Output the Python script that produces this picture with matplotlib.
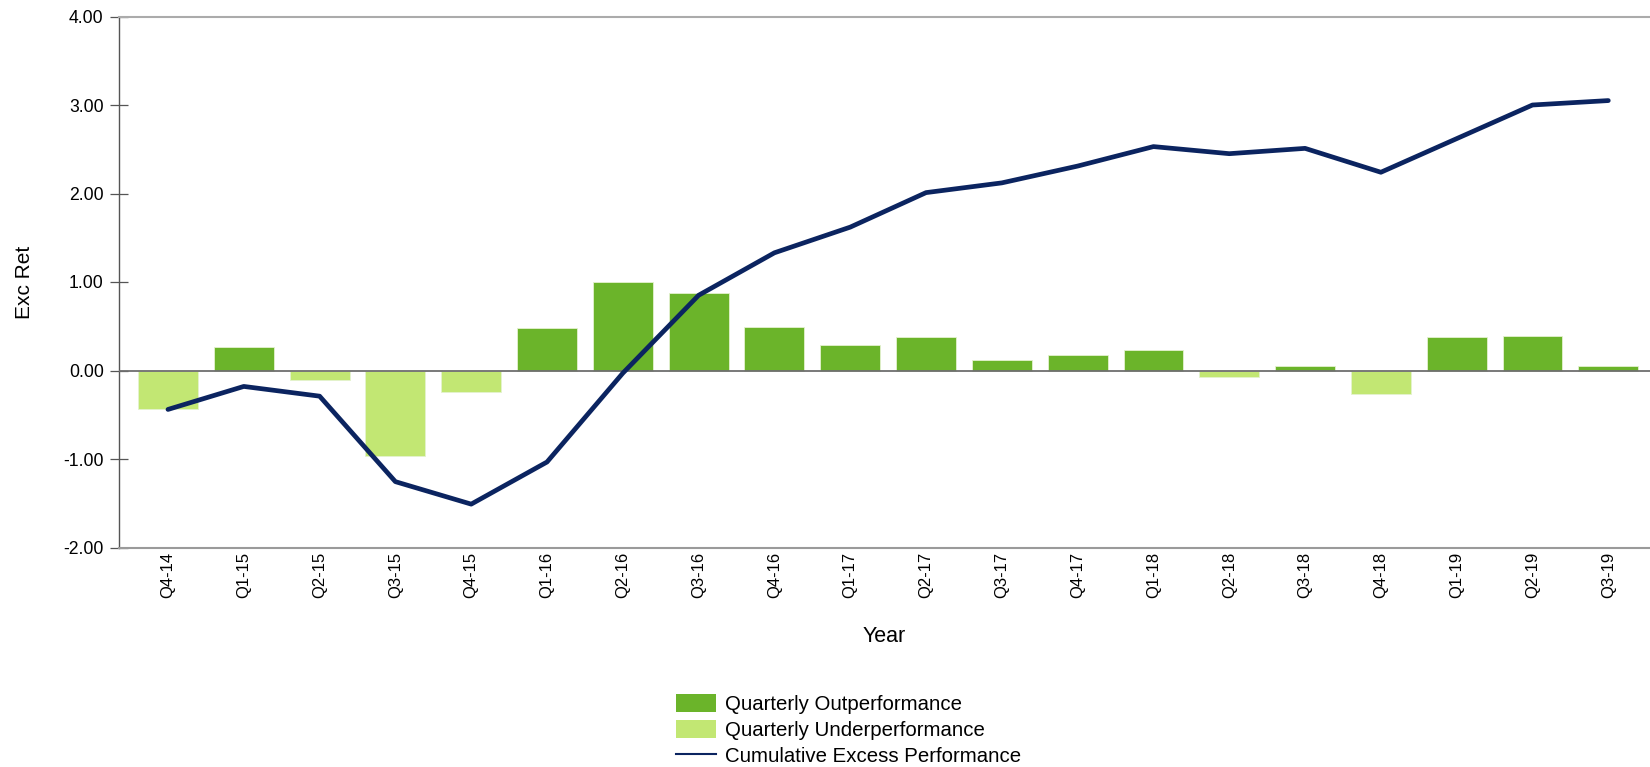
import matplotlib
matplotlib.use("Agg")
import matplotlib.pyplot as plt
from matplotlib.patches import Patch
from matplotlib.lines import Line2D

plt.rcParams['font.family'] = ['Liberation Sans', 'DejaVu Sans']

quarters = ["Q4-14", "Q1-15", "Q2-15", "Q3-15", "Q4-15", "Q1-16", "Q2-16", "Q3-16",
            "Q4-16", "Q1-17", "Q2-17", "Q3-17", "Q4-17", "Q1-18", "Q2-18", "Q3-18",
            "Q4-18", "Q1-19", "Q2-19", "Q3-19"]
quarterly = [-0.43, 0.26, -0.105, -0.966, -0.244, 0.477, 1.004, 0.88,
             0.49, 0.286, 0.38, 0.12, 0.18, 0.226, -0.07, 0.055,
             -0.26, 0.38, 0.39, 0.05]
cumulative = [-0.44, -0.18, -0.29, -1.256, -1.51, -1.034, -0.03, 0.85,
              1.33, 1.62, 2.01, 2.12, 2.31, 2.53, 2.45, 2.51,
              2.24, 2.62, 3.00, 3.05]
yticks = [-2.0, -1.0, 0.0, 1.0, 2.0, 3.0, 4.0]

c_out = '#6BB42A'
c_under = '#C2E773'
c_line = '#0B2460'

fig = plt.figure(figsize=(16.5, 7.67), dpi=100)
ax = fig.add_axes([119/1650, 1 - 547.5/767, 1 - 119/1650, (547.5 - 16.5)/767])

x = list(range(len(quarters)))
colors = [c_out if v >= 0 else c_under for v in quarterly]
ax.bar(x, quarterly, width=0.79, color=colors, edgecolor='#E4F2CF', linewidth=0.6, zorder=2)
ax.axhline(0, color='#6E6E6E', linewidth=1.3, zorder=3)
ax.plot(x, cumulative, color=c_line, linewidth=3.4, solid_capstyle='round',
        solid_joinstyle='round', zorder=4)

ax.set_xlim(-0.646, 19.55)
ax.set_ylim(-2, 4)
ax.set_yticks(yticks)
ax.set_yticklabels([f"{v:.2f}" for v in yticks], fontsize=12.7)
ax.set_xticks(x)
ax.set_xticklabels(quarters, rotation=90, fontsize=12)
ax.tick_params(axis='x', length=0, pad=3)
ax.tick_params(axis='y', direction='inout', length=13, width=0.9, color='#555555', pad=4.5)

ax.spines['right'].set_visible(False)
ax.spines['top'].set_color('#ABABAB')
ax.spines['top'].set_linewidth(1.5)
ax.spines['bottom'].set_color('#9A9A9A')
ax.spines['bottom'].set_linewidth(1.5)
ax.spines['left'].set_color('#555555')
ax.spines['left'].set_linewidth(1.0)

ax.set_ylabel("Exc Ret", fontsize=15, labelpad=21)
ax.set_xlabel("Year", fontsize=15.5, labelpad=20)

handles = [Patch(facecolor=c_out, edgecolor='none'),
           Patch(facecolor=c_under, edgecolor='none'),
           Line2D([0], [0], color=c_line, linewidth=1.5)]
labels = ["Quarterly Outperformance", "Quarterly Underperformance", "Cumulative Excess Performance"]
fig.legend(handles, labels, loc='upper left', bbox_to_anchor=(676/1650, 1 - 694/767),
           frameon=False, fontsize=14.7, handlelength=1.95, handleheight=1.0,
           handletextpad=0.45, labelspacing=0.28, borderpad=0, borderaxespad=0)

fig.savefig("out.png", dpi=100)
